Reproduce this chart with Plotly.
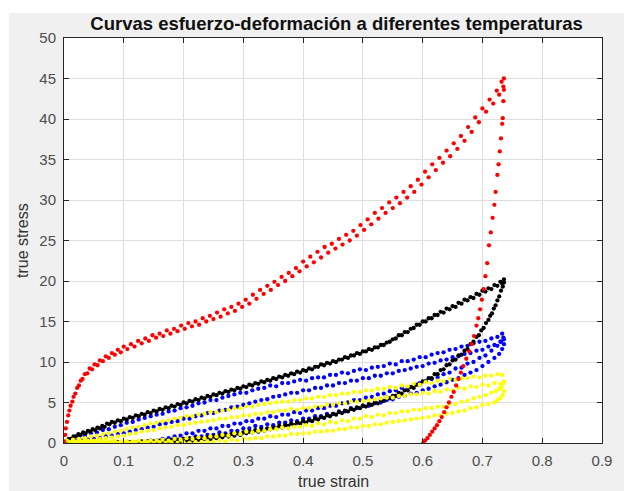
import plotly.graph_objects as go

# Stress-strain loops (true strain, true stress), one loading and one unloading branch per test.

red_loading = [
    (0.000, 0.2), (0.002, 1.0), (0.003, 1.8), (0.005, 2.6), (0.007, 3.4), (0.009, 4.0), (0.011, 4.6),
    (0.014, 5.1), (0.016, 5.7), (0.019, 6.1), (0.022, 6.8), (0.025, 7.1), (0.028, 7.7), (0.031, 7.9),
    (0.035, 8.5), (0.039, 8.6), (0.043, 9.2), (0.047, 9.1), (0.051, 9.7), (0.056, 9.6), (0.060, 10.2),
    (0.065, 10.1), (0.070, 10.7), (0.075, 10.5), (0.080, 11.1), (0.085, 10.9), (0.090, 11.5), (0.095, 11.2),
    (0.100, 11.9), (0.106, 11.6), (0.112, 12.2), (0.118, 11.9), (0.124, 12.6), (0.130, 12.3), (0.136, 12.9),
    (0.142, 12.6), (0.148, 13.3), (0.154, 13.0), (0.160, 13.5), (0.166, 13.2), (0.172, 13.9), (0.178, 13.5),
    (0.184, 14.1), (0.190, 13.8), (0.196, 14.5), (0.202, 14.1), (0.208, 14.8), (0.214, 14.4), (0.220, 15.0),
    (0.226, 14.6), (0.232, 15.4), (0.238, 15.0), (0.244, 15.7), (0.250, 15.3), (0.256, 16.1), (0.262, 15.6),
    (0.268, 16.5), (0.274, 16.0), (0.280, 16.8), (0.286, 16.3), (0.292, 17.2), (0.298, 16.8), (0.304, 17.7),
    (0.310, 17.2), (0.316, 18.3), (0.322, 17.8), (0.328, 18.9), (0.334, 18.4), (0.340, 19.4), (0.346, 18.9),
    (0.352, 19.9), (0.358, 19.5), (0.364, 20.5), (0.370, 20.0), (0.376, 21.0), (0.382, 20.6), (0.388, 21.6),
    (0.394, 21.2), (0.400, 22.4), (0.406, 21.8), (0.412, 23.0), (0.418, 22.3), (0.424, 23.6), (0.430, 22.9),
    (0.436, 24.2), (0.442, 23.5), (0.448, 24.6), (0.454, 24.0), (0.460, 25.2), (0.466, 24.5), (0.472, 25.7),
    (0.478, 25.0), (0.484, 26.2), (0.490, 25.6), (0.496, 26.9), (0.502, 26.3), (0.508, 27.6), (0.514, 27.0),
    (0.520, 28.4), (0.526, 27.7), (0.532, 29.0), (0.538, 28.4), (0.544, 29.7), (0.550, 29.0), (0.556, 30.3),
    (0.562, 29.6), (0.568, 31.0), (0.574, 30.3), (0.580, 31.7), (0.586, 31.0), (0.592, 32.5), (0.598, 31.9),
    (0.604, 33.5), (0.610, 32.8), (0.616, 34.4), (0.622, 33.7), (0.628, 35.2), (0.634, 34.6), (0.640, 36.1),
    (0.646, 35.4), (0.652, 37.0), (0.658, 36.3), (0.664, 37.9), (0.670, 37.3), (0.676, 39.0), (0.682, 38.4),
    (0.688, 40.2), (0.694, 39.6), (0.700, 41.3), (0.706, 40.9), (0.712, 42.4), (0.718, 41.9), (0.724, 43.5),
    (0.728, 43.0), (0.732, 44.6), (0.735, 44.0), (0.736, 45.0),
]

red_unloading = [
    (0.736, 43.6), (0.735, 42.2), (0.734, 40.1), (0.733, 39.4), (0.731, 37.6), (0.729, 36.0), (0.727, 34.4),
    (0.725, 33.1), (0.722, 31.0), (0.720, 29.4), (0.717, 27.8), (0.714, 26.0), (0.711, 24.4), (0.708, 22.2),
    (0.705, 20.6), (0.702, 19.0), (0.699, 17.7), (0.696, 16.5), (0.693, 15.4), (0.690, 14.5), (0.686, 13.2),
    (0.682, 12.2), (0.678, 11.3), (0.673, 10.4), (0.668, 9.5), (0.664, 8.7), (0.660, 7.9), (0.656, 7.1),
    (0.652, 6.3), (0.648, 5.7), (0.644, 5.0), (0.640, 4.4), (0.636, 3.8), (0.632, 3.2), (0.628, 2.7),
    (0.624, 2.2), (0.620, 1.8), (0.616, 1.4), (0.612, 1.0), (0.608, 0.6), (0.604, 0.3), (0.601, 0.0),
]

black_loading = [
    (0.000, 0.0), (0.004, 0.2), (0.008, 0.5), (0.012, 0.5), (0.016, 0.8), (0.020, 0.8), (0.024, 1.1),
    (0.028, 1.0), (0.032, 1.3), (0.036, 1.2), (0.040, 1.5), (0.044, 1.4), (0.048, 1.7), (0.052, 1.6),
    (0.056, 1.9), (0.060, 1.8), (0.064, 2.1), (0.068, 2.0), (0.072, 2.4), (0.076, 2.3), (0.080, 2.6),
    (0.085, 2.5), (0.090, 2.8), (0.095, 2.7), (0.100, 3.0), (0.105, 2.9), (0.110, 3.2), (0.115, 3.1),
    (0.120, 3.4), (0.125, 3.3), (0.130, 3.6), (0.135, 3.5), (0.140, 3.8), (0.145, 3.7), (0.150, 4.0),
    (0.155, 3.9), (0.160, 4.2), (0.165, 4.1), (0.170, 4.4), (0.175, 4.3), (0.180, 4.6), (0.185, 4.5),
    (0.190, 4.8), (0.195, 4.7), (0.200, 5.0), (0.205, 4.9), (0.210, 5.2), (0.215, 5.1), (0.220, 5.4),
    (0.225, 5.3), (0.230, 5.6), (0.235, 5.5), (0.240, 5.8), (0.245, 5.7), (0.250, 6.0), (0.255, 5.9),
    (0.260, 6.2), (0.265, 6.1), (0.270, 6.4), (0.275, 6.3), (0.280, 6.6), (0.285, 6.5), (0.290, 6.8),
    (0.295, 6.7), (0.300, 7.0), (0.305, 6.9), (0.310, 7.2), (0.315, 7.1), (0.320, 7.4), (0.325, 7.3),
    (0.330, 7.6), (0.335, 7.5), (0.340, 7.8), (0.345, 7.7), (0.350, 8.0), (0.355, 7.9), (0.360, 8.2),
    (0.365, 8.1), (0.370, 8.4), (0.375, 8.3), (0.380, 8.6), (0.385, 8.5), (0.390, 8.8), (0.395, 8.7),
    (0.400, 9.0), (0.405, 8.9), (0.410, 9.2), (0.415, 9.1), (0.420, 9.4), (0.425, 9.4), (0.430, 9.7),
    (0.435, 9.6), (0.440, 9.9), (0.445, 9.8), (0.450, 10.1), (0.455, 10.0), (0.460, 10.3), (0.465, 10.3),
    (0.470, 10.6), (0.475, 10.5), (0.480, 10.8), (0.485, 10.8), (0.490, 11.1), (0.495, 11.0), (0.500, 11.3),
    (0.505, 11.3), (0.510, 11.6), (0.515, 11.5), (0.520, 11.8), (0.525, 11.8), (0.530, 12.1), (0.535, 12.1),
    (0.540, 12.4), (0.545, 12.5), (0.550, 12.8), (0.555, 12.9), (0.560, 13.3), (0.565, 13.3), (0.570, 13.7),
    (0.575, 13.7), (0.580, 14.1), (0.585, 14.2), (0.590, 14.6), (0.595, 14.6), (0.600, 15.0), (0.605, 15.0),
    (0.610, 15.4), (0.615, 15.4), (0.620, 15.8), (0.625, 15.8), (0.630, 16.2), (0.635, 16.1), (0.640, 16.6),
    (0.645, 16.5), (0.650, 16.9), (0.655, 16.8), (0.660, 17.3), (0.665, 17.2), (0.670, 17.7), (0.675, 17.6),
    (0.680, 18.0), (0.685, 17.9), (0.690, 18.4), (0.695, 18.3), (0.700, 18.8), (0.705, 18.7), (0.710, 19.1),
    (0.715, 19.0), (0.720, 19.5), (0.725, 19.4), (0.730, 19.9), (0.733, 19.7), (0.736, 20.2),
]

black_unloading = [
    (0.736, 19.8), (0.734, 19.3), (0.731, 18.8), (0.728, 18.1), (0.725, 17.6), (0.722, 17.0), (0.719, 16.6),
    (0.716, 16.0), (0.713, 15.7), (0.710, 15.2), (0.706, 14.8), (0.702, 14.2), (0.698, 13.9), (0.694, 13.3),
    (0.690, 13.1), (0.685, 12.5), (0.680, 12.2), (0.675, 11.6), (0.670, 11.4), (0.665, 10.9), (0.660, 10.8),
    (0.655, 10.3), (0.650, 10.2), (0.645, 9.7), (0.640, 9.6), (0.635, 9.1), (0.630, 9.0), (0.625, 8.5),
    (0.620, 8.5), (0.615, 8.0), (0.610, 8.0), (0.605, 7.6), (0.600, 7.6), (0.595, 7.2), (0.590, 7.2),
    (0.585, 6.8), (0.580, 6.9), (0.575, 6.5), (0.570, 6.5), (0.565, 6.1), (0.560, 6.2), (0.555, 5.8),
    (0.550, 5.8), (0.545, 5.5), (0.540, 5.6), (0.535, 5.2), (0.530, 5.3), (0.525, 4.9), (0.520, 5.0),
    (0.515, 4.7), (0.510, 4.8), (0.505, 4.5), (0.500, 4.6), (0.495, 4.3), (0.490, 4.4), (0.485, 4.1),
    (0.480, 4.2), (0.475, 3.9), (0.470, 4.0), (0.465, 3.7), (0.460, 3.8), (0.455, 3.5), (0.450, 3.6),
    (0.445, 3.3), (0.440, 3.4), (0.435, 3.1), (0.430, 3.2), (0.425, 2.9), (0.420, 3.0), (0.415, 2.7),
    (0.410, 2.8), (0.405, 2.5), (0.400, 2.7), (0.395, 2.4), (0.390, 2.5), (0.385, 2.2), (0.380, 2.4),
    (0.375, 2.1), (0.370, 2.2), (0.365, 1.9), (0.360, 2.1), (0.355, 1.8), (0.350, 1.9), (0.345, 1.7),
    (0.340, 1.8), (0.335, 1.5), (0.330, 1.7), (0.325, 1.4), (0.320, 1.6), (0.315, 1.3), (0.310, 1.4),
    (0.305, 1.2), (0.300, 1.3), (0.295, 1.0), (0.290, 1.2), (0.285, 0.9), (0.280, 1.1), (0.275, 0.8),
    (0.270, 1.0), (0.265, 0.7), (0.260, 0.9), (0.255, 0.6), (0.250, 0.8), (0.245, 0.5), (0.240, 0.7),
    (0.235, 0.5), (0.230, 0.6), (0.225, 0.4), (0.220, 0.6), (0.215, 0.3), (0.210, 0.5), (0.205, 0.3),
    (0.200, 0.5), (0.195, 0.2), (0.190, 0.4), (0.185, 0.2), (0.180, 0.4), (0.175, 0.1), (0.170, 0.3),
    (0.165, 0.1), (0.160, 0.3), (0.155, 0.0), (0.150, 0.2), (0.145, 0.1), (0.140, 0.2), (0.135, 0.0),
    (0.130, 0.2), (0.125, 0.0), (0.120, 0.1), (0.115, 0.0), (0.110, 0.1), (0.100, 0.0), (0.090, 0.1),
    (0.080, 0.0),
]

blue_loading = [
    # upper edge of the band
    (0.005, 0.3), (0.015, 0.5), (0.025, 0.8), (0.035, 0.9), (0.045, 1.2), (0.055, 1.3), (0.065, 1.6),
    (0.075, 1.7), (0.085, 2.0), (0.095, 2.2), (0.105, 2.5), (0.115, 2.6), (0.125, 2.9), (0.135, 3.1),
    (0.145, 3.3), (0.155, 3.5), (0.165, 3.6), (0.175, 3.9), (0.185, 4.0), (0.195, 4.3), (0.205, 4.4),
    (0.215, 4.6), (0.225, 4.9), (0.235, 5.0), (0.245, 5.3), (0.255, 5.3), (0.265, 5.6), (0.275, 5.8),
    (0.285, 6.0), (0.295, 6.2), (0.305, 6.2), (0.315, 6.5), (0.325, 6.7), (0.335, 6.8), (0.345, 7.1),
    (0.355, 7.0), (0.365, 7.4), (0.375, 7.4), (0.385, 7.6), (0.395, 7.8), (0.405, 7.7), (0.415, 8.0),
    (0.425, 8.1), (0.435, 8.1), (0.445, 8.4), (0.455, 8.4), (0.465, 8.7), (0.475, 8.6), (0.485, 8.9),
    (0.495, 9.1), (0.505, 9.0), (0.515, 9.3), (0.525, 9.4), (0.535, 9.5), (0.545, 9.8), (0.555, 9.7),
    (0.565, 10.1), (0.575, 10.1), (0.585, 10.3), (0.595, 10.6), (0.605, 10.6), (0.615, 10.9), (0.625, 11.1),
    (0.635, 11.2), (0.645, 11.5), (0.655, 11.6), (0.665, 11.9), (0.675, 12.0), (0.685, 12.3), (0.695, 12.5),
    (0.705, 12.6), (0.715, 12.9), (0.725, 13.1), (0.733, 13.5),
    # lower edge of the band
    (0.000, 0.0), (0.010, 0.1), (0.020, 0.2), (0.030, 0.3), (0.040, 0.4), (0.050, 0.5), (0.060, 0.6),
    (0.070, 0.8), (0.080, 0.9), (0.090, 1.1), (0.100, 1.2), (0.110, 1.4), (0.120, 1.6), (0.130, 1.7),
    (0.140, 1.9), (0.150, 2.0), (0.160, 2.3), (0.170, 2.4), (0.180, 2.6), (0.190, 2.7), (0.200, 3.0),
    (0.210, 3.0), (0.220, 3.3), (0.230, 3.4), (0.240, 3.7), (0.250, 3.7), (0.260, 4.0), (0.270, 4.1),
    (0.280, 4.4), (0.290, 4.5), (0.300, 4.7), (0.310, 4.9), (0.320, 5.1), (0.330, 5.3), (0.340, 5.4),
    (0.350, 5.7), (0.360, 5.8), (0.370, 6.0), (0.380, 6.2), (0.390, 6.2), (0.400, 6.5), (0.410, 6.5),
    (0.420, 6.8), (0.430, 6.8), (0.440, 7.1), (0.450, 7.1), (0.460, 7.4), (0.470, 7.4), (0.480, 7.7),
    (0.490, 7.7), (0.500, 8.0), (0.510, 8.0), (0.520, 8.3), (0.530, 8.3), (0.540, 8.6), (0.550, 8.6),
    (0.560, 8.9), (0.570, 9.0), (0.580, 9.2), (0.590, 9.4), (0.600, 9.5), (0.610, 9.8), (0.620, 9.9),
    (0.630, 10.2), (0.640, 10.3), (0.650, 10.6), (0.660, 10.7), (0.670, 11.0), (0.680, 11.1), (0.690, 11.4),
    (0.700, 11.5), (0.710, 11.9), (0.720, 12.1), (0.730, 12.5), (0.736, 12.8),
]

blue_unloading = [
    (0.735, 13.0), (0.731, 12.5), (0.725, 12.0), (0.715, 11.4), (0.705, 10.8), (0.695, 10.5), (0.685, 10.0),
    (0.675, 9.8), (0.665, 9.3), (0.655, 9.2), (0.645, 8.7), (0.635, 8.5), (0.625, 8.1), (0.615, 7.9),
    (0.605, 7.6), (0.595, 7.4), (0.585, 7.1), (0.575, 6.9), (0.565, 6.8), (0.555, 6.5), (0.545, 6.4),
    (0.535, 6.1), (0.525, 6.0), (0.515, 5.7), (0.505, 5.6), (0.495, 5.3), (0.485, 5.3), (0.475, 5.0),
    (0.465, 4.9), (0.455, 4.6), (0.445, 4.6), (0.435, 4.3), (0.425, 4.3), (0.415, 4.0), (0.405, 4.0),
    (0.395, 3.7), (0.385, 3.8), (0.375, 3.5), (0.365, 3.5), (0.355, 3.2), (0.345, 3.3), (0.335, 3.0),
    (0.325, 3.0), (0.315, 2.7), (0.305, 2.7), (0.295, 2.4), (0.285, 2.4), (0.275, 2.1), (0.265, 2.1),
    (0.255, 1.8), (0.245, 1.8), (0.235, 1.5), (0.225, 1.5), (0.215, 1.2), (0.205, 1.2), (0.195, 0.9),
    (0.185, 0.8), (0.175, 0.6), (0.165, 0.5), (0.155, 0.3), (0.145, 0.3), (0.135, 0.1),
    (0.736, 12.2), (0.733, 11.6), (0.728, 11.0), (0.720, 10.5), (0.710, 10.0), (0.700, 9.5), (0.690, 9.0),
    (0.680, 8.7), (0.670, 8.4), (0.660, 8.0), (0.650, 7.8), (0.640, 7.5), (0.630, 7.2), (0.620, 7.0),
    (0.610, 6.7), (0.600, 6.5), (0.590, 6.2), (0.580, 6.1), (0.570, 5.8), (0.560, 5.7), (0.550, 5.4),
    (0.540, 5.3), (0.530, 5.0), (0.520, 4.9), (0.510, 4.6), (0.500, 4.6), (0.490, 4.3), (0.480, 4.3),
    (0.470, 3.9), (0.460, 3.9), (0.450, 3.6), (0.440, 3.6), (0.430, 3.3), (0.420, 3.3), (0.410, 3.0),
    (0.400, 3.0), (0.390, 2.7), (0.380, 2.8), (0.370, 2.5), (0.360, 2.5), (0.350, 2.2), (0.340, 2.3),
    (0.330, 2.0), (0.320, 2.1), (0.310, 1.8), (0.300, 1.8), (0.290, 1.5), (0.280, 1.5), (0.270, 1.2),
    (0.260, 1.3), (0.250, 1.0), (0.240, 1.0), (0.230, 0.8), (0.220, 0.8), (0.210, 0.6), (0.200, 0.5),
    (0.190, 0.3), (0.180, 0.3), (0.170, 0.2), (0.160, 0.1), (0.150, 0.0), (0.140, 0.1), (0.125, 0.0),
]

yellow_loading = [
    (0.005, 0.3), (0.015, 0.4), (0.025, 0.5), (0.035, 0.6), (0.045, 0.8), (0.055, 0.9), (0.065, 1.1),
    (0.075, 1.2), (0.085, 1.4), (0.095, 1.5), (0.105, 1.7), (0.115, 1.9), (0.125, 2.0), (0.135, 2.2),
    (0.145, 2.4), (0.155, 2.5), (0.165, 2.7), (0.175, 2.8), (0.185, 3.0), (0.195, 3.1), (0.205, 3.3),
    (0.215, 3.3), (0.225, 3.5), (0.235, 3.6), (0.245, 3.8), (0.255, 3.8), (0.265, 4.0), (0.275, 4.1),
    (0.285, 4.3), (0.295, 4.3), (0.305, 4.5), (0.315, 4.5), (0.325, 4.7), (0.335, 4.8), (0.345, 4.9),
    (0.355, 5.0), (0.365, 5.1), (0.375, 5.1), (0.385, 5.3), (0.395, 5.3), (0.405, 5.5), (0.415, 5.5),
    (0.425, 5.7), (0.435, 5.7), (0.445, 5.9), (0.455, 5.9), (0.465, 6.1), (0.475, 6.1), (0.485, 6.3),
    (0.495, 6.3), (0.505, 6.5), (0.515, 6.5), (0.525, 6.7), (0.535, 6.7), (0.545, 6.9), (0.555, 6.8),
    (0.565, 7.1), (0.575, 7.0), (0.585, 7.3), (0.595, 7.2), (0.605, 7.5), (0.615, 7.4), (0.625, 7.7),
    (0.635, 7.6), (0.645, 7.9), (0.655, 7.8), (0.665, 8.0), (0.675, 8.0), (0.685, 8.2), (0.695, 8.1),
    (0.705, 8.3), (0.715, 8.3), (0.725, 8.5), (0.733, 8.4),
    (0.000, 0.0), (0.010, 0.1), (0.020, 0.1), (0.030, 0.2), (0.040, 0.3), (0.050, 0.3), (0.060, 0.5),
    (0.070, 0.6), (0.080, 0.7), (0.090, 0.8), (0.100, 0.9), (0.110, 1.1), (0.120, 1.2), (0.130, 1.4),
    (0.140, 1.5), (0.150, 1.6), (0.160, 1.8), (0.170, 1.9), (0.180, 2.0), (0.190, 2.2), (0.200, 2.2),
    (0.210, 2.4), (0.220, 2.5), (0.230, 2.6), (0.240, 2.7), (0.250, 2.8), (0.260, 3.0), (0.270, 3.0),
    (0.280, 3.2), (0.290, 3.2), (0.300, 3.4), (0.310, 3.4), (0.320, 3.6), (0.330, 3.6), (0.340, 3.8),
    (0.350, 3.8), (0.360, 4.0), (0.370, 4.0), (0.380, 4.2), (0.390, 4.1), (0.400, 4.3), (0.410, 4.3),
    (0.420, 4.5), (0.430, 4.5), (0.440, 4.7), (0.450, 4.7), (0.460, 4.9), (0.470, 4.9), (0.480, 5.1),
    (0.490, 5.1), (0.500, 5.2), (0.510, 5.3), (0.520, 5.4), (0.530, 5.5), (0.540, 5.6), (0.550, 5.6),
    (0.560, 5.8), (0.570, 5.8), (0.580, 6.0), (0.590, 6.0), (0.600, 6.2), (0.610, 6.1), (0.620, 6.4),
    (0.630, 6.3), (0.640, 6.6), (0.650, 6.5), (0.660, 6.8), (0.670, 6.7), (0.680, 7.0), (0.690, 6.9),
    (0.700, 7.2), (0.710, 7.1), (0.720, 7.4), (0.730, 7.3), (0.736, 7.6),
]

yellow_unloading = [
    (0.735, 7.4), (0.732, 6.9), (0.728, 6.7), (0.722, 6.4), (0.715, 6.2), (0.705, 5.9), (0.695, 5.7),
    (0.685, 5.5), (0.675, 5.2), (0.665, 5.1), (0.655, 4.8), (0.645, 4.8), (0.635, 4.5), (0.625, 4.5),
    (0.615, 4.3), (0.605, 4.3), (0.595, 4.1), (0.585, 4.1), (0.575, 3.9), (0.565, 3.9), (0.555, 3.7),
    (0.545, 3.7), (0.535, 3.4), (0.525, 3.5), (0.515, 3.2), (0.505, 3.3), (0.495, 3.0), (0.485, 3.0),
    (0.475, 2.7), (0.465, 2.8), (0.455, 2.5), (0.445, 2.6), (0.435, 2.3), (0.425, 2.4), (0.415, 2.1),
    (0.405, 2.2), (0.395, 2.0), (0.385, 2.0), (0.375, 1.8), (0.365, 1.9), (0.355, 1.7), (0.345, 1.7),
    (0.335, 1.5), (0.325, 1.5), (0.315, 1.3), (0.305, 1.4), (0.295, 1.1), (0.285, 1.2), (0.275, 0.9),
    (0.265, 1.0), (0.255, 0.8), (0.245, 0.8), (0.235, 0.6), (0.225, 0.7), (0.215, 0.5), (0.205, 0.6),
    (0.195, 0.4), (0.185, 0.5), (0.175, 0.3), (0.165, 0.4), (0.155, 0.3), (0.145, 0.3), (0.135, 0.2),
    (0.125, 0.3), (0.115, 0.2), (0.105, 0.2), (0.095, 0.2), (0.085, 0.3), (0.075, 0.2), (0.065, 0.2),
    (0.055, 0.3), (0.045, 0.2), (0.035, 0.3), (0.025, 0.2), (0.015, 0.2),
    (0.736, 6.4), (0.734, 5.9), (0.730, 5.5), (0.725, 5.3), (0.720, 5.0), (0.710, 4.8), (0.700, 4.7),
    (0.690, 4.4), (0.680, 4.3), (0.670, 4.0), (0.660, 3.9), (0.650, 3.7), (0.640, 3.6), (0.630, 3.4),
    (0.620, 3.4), (0.610, 3.2), (0.600, 3.1), (0.590, 3.0), (0.580, 2.9), (0.570, 2.8), (0.560, 2.7),
    (0.550, 2.6), (0.540, 2.5), (0.530, 2.3), (0.520, 2.3), (0.510, 2.1), (0.500, 2.1), (0.490, 1.9),
    (0.480, 1.9), (0.470, 1.7), (0.460, 1.7), (0.450, 1.5), (0.440, 1.5), (0.430, 1.4), (0.420, 1.4),
    (0.410, 1.2), (0.400, 1.2), (0.390, 1.1), (0.380, 1.1), (0.370, 0.9), (0.360, 0.9), (0.350, 0.8),
    (0.340, 0.8), (0.330, 0.6), (0.320, 0.6), (0.310, 0.5), (0.300, 0.5), (0.290, 0.3), (0.280, 0.4),
    (0.270, 0.2), (0.260, 0.3), (0.250, 0.1), (0.240, 0.2), (0.230, 0.1), (0.220, 0.1), (0.210, 0.0),
    (0.200, 0.1), (0.190, 0.0), (0.180, 0.1), (0.170, 0.0), (0.160, 0.1), (0.150, 0.0), (0.140, 0.1),
    (0.130, 0.0), (0.120, 0.1), (0.110, 0.0), (0.100, 0.1), (0.090, 0.0), (0.080, 0.1), (0.070, 0.0),
    (0.060, 0.1), (0.050, 0.0), (0.040, 0.1), (0.030, 0.0), (0.020, 0.1), (0.010, 0.0),
]

x_ticks = [0, 0.1, 0.2, 0.3, 0.4, 0.5, 0.6, 0.7, 0.8, 0.9]
y_ticks = [0, 5, 10, 15, 20, 25, 30, 35, 40, 45, 50]

# drawing order: later series are painted on top
series = [
    ("blue", blue_loading + blue_unloading),
    ("black", black_loading + black_unloading),
    ("yellow", yellow_loading + yellow_unloading),
    ("red", red_loading + red_unloading),
]
color_map = {"blue": "#0000ff", "black": "#000000", "yellow": "#ffff00", "red": "#ff0000"}

fig = go.Figure()
for name, pts in series:
    fig.add_trace(go.Scatter(
        x=[p[0] for p in pts],
        y=[p[1] for p in pts],
        mode="markers",
        marker=dict(size=4.3, color=color_map[name], line=dict(width=0)),
        name=name,
        hoverinfo="x+y",
    ))

W, H = 624, 491
L, R, T, B = 64, 15, 38, 48
pw, ph = W - L - R, H - T - B

font_family = "Liberation Sans, Arial, Helvetica, sans-serif"
axis_style = dict(
    showgrid=True, gridcolor="#dedede", gridwidth=1,
    showline=True, linecolor="#262626", linewidth=1, mirror="ticks",
    ticks="inside", ticklen=5, tickcolor="#262626", tickwidth=1,
    zeroline=False,
    tickfont=dict(family=font_family, size=15, color="#4d4d4d"),
)

fig.update_layout(
    width=W, height=H,
    margin=dict(l=L, r=R, t=T, b=B, pad=0),
    paper_bgcolor="#f0f0f0",
    plot_bgcolor="#ffffff",
    showlegend=False,
    title=dict(
        text="<b>Curvas esfuerzo-deformación a diferentes temperaturas</b>",
        font=dict(family=font_family, size=18.5, color="#111111"),
        x=(L + pw / 2) / W, xanchor="center",
        y=1 - 23.5 / H, yanchor="middle",
    ),
    xaxis=dict(range=[0, 0.9], tickvals=x_ticks, ticktext=[f"{v:g}" for v in x_ticks],
               ticklabelstandoff=4, **axis_style),
    yaxis=dict(range=[0, 50], tickvals=y_ticks, ticktext=[str(v) for v in y_ticks],
               ticklabelstandoff=4, **axis_style),
    annotations=[
        dict(text="true strain", xref="paper", yref="paper", x=0.5, y=(T + ph - 481) / ph,
             xanchor="center", yanchor="middle", showarrow=False,
             font=dict(family=font_family, size=16, color="#333333")),
        dict(text="true stress", xref="paper", yref="paper", x=(22 - L) / pw, y=0.5,
             xanchor="center", yanchor="middle", textangle=-90, showarrow=False,
             font=dict(family=font_family, size=16, color="#333333")),
    ],
    shapes=[
        # white page strips around the grey figure panel
        dict(type="rect", xref="paper", yref="paper", x0=-L / pw - 0.05, x1=(8 - L) / pw,
             y0=-B / ph - 0.05, y1=(T + ph) / ph + 0.05, fillcolor="#ffffff", line=dict(width=0), layer="below"),
        dict(type="rect", xref="paper", yref="paper", x0=-L / pw - 0.05, x1=1 + R / pw + 0.05,
             y0=(T + ph - 13) / ph, y1=(T + ph) / ph + 0.05, fillcolor="#ffffff", line=dict(width=0), layer="below"),
    ],
)

fig.write_html("out.html")
